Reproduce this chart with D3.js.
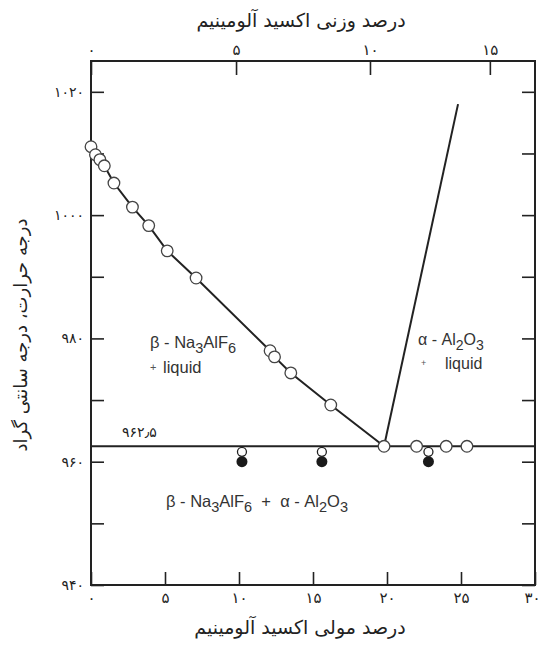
<!DOCTYPE html>
<html><head><meta charset="utf-8">
<script src="https://cdn.jsdelivr.net/npm/d3@7/dist/d3.min.js"></script>
<style>
body{margin:0;background:#fff;}
svg{display:block;}
.fa{font-family:"DejaVu Sans",sans-serif;}
.lat{font-family:"Liberation Sans",Arial,sans-serif;}
</style></head><body>
<svg id="c" width="541" height="645"></svg>
<script>
// ---- data ----
const molTicks = [0,5,10,15,20,25,30];
const tempTicks = [940,950,960,970,980,990,1000,1010,1020];
const tempLabels = [940,960,980,1000,1020];
const wtLabels = [0,5,10,15];
const wtTickMol = [0,9.8,18.85,26.95];   // mol% position of each weight% tick
const eutecticT = 962.5;
// beta-cryolite liquidus: [mol% Al2O3, temperature]
const liquidusBeta = [[0,1011.1],[0.3,1009.8],[0.6,1009],[0.9,1008],[1.55,1005.2],[2.8,1001.3],[3.9,998.3],[5.15,994.2],[7.1,989.8],[12.1,978.0],[12.4,977.0],[13.5,974.4],[16.2,969.2],[19.8,962.5]];
// alpha-alumina liquidus
const liquidusAlpha = [[19.8,962.5],[24.8,1018]];
// open circles on eutectic line
const eutecticPts = [[22.0,962.5],[24.0,962.5],[25.4,962.5]];
// solid (filled) points below eutectic with open marks above
const solidPts = [[10.2,960.0],[15.6,960.0],[22.8,960.0]];
const solidOpen = [[10.2,961.6],[15.6,961.6],[22.8,961.6]];

const fa = s => String(s).replace(/[0-9]/g, d => "۰۱۲۳۴۵۶۷۸۹"[+d]).replace(".", "٫");

const svg = d3.select("#c");
const x = d3.scaleLinear().domain([0,30]).range([91,535]);
const y = d3.scaleLinear().domain([940,1025]).range([585,61]);
const ink = "#222";

// axes
const gB = svg.append("g").attr("transform",`translate(0,${y(940)})`)
  .call(d3.axisBottom(x).tickValues(molTicks).tickSize(-13).tickPadding(7).tickFormat(fa));
const gT = svg.append("g").attr("transform",`translate(0,${y(1025)})`)
  .call(d3.axisTop(x).tickValues(wtTickMol).tickSize(-14).tickPadding(6).tickFormat((d,i)=>fa(wtLabels[i])));
const gL = svg.append("g").attr("transform",`translate(${x(0)},0)`)
  .call(d3.axisLeft(y).tickValues(tempTicks).tickSize(-13).tickPadding(7).tickFormat(d=>tempLabels.includes(d)?fa(d):""));
const gR = svg.append("g").attr("transform",`translate(${x(30)},0)`)
  .call(d3.axisRight(y).tickValues(tempTicks).tickSize(-13).tickFormat(""));
[gB,gT,gL,gR].forEach(g=>{
  g.select(".domain").remove();
  g.selectAll(".tick line").attr("stroke",ink).attr("stroke-width",1.6);
  g.selectAll("text").attr("class","fa").attr("font-size",15).attr("fill",ink);
});
gL.selectAll("text").attr("font-size",14);
gL.selectAll("text").filter(function(){return this.textContent==="";}).remove();
gR.selectAll("text").remove();
// last bottom label sits at the right edge
gB.selectAll(".tick text").filter(d=>d===30).attr("text-anchor","end").attr("dx",5);

// frame
svg.append("rect").attr("x",x(0)).attr("y",y(1025)).attr("width",x(30)-x(0)).attr("height",y(940)-y(1025))
  .attr("fill","none").attr("stroke",ink).attr("stroke-width",2);

// eutectic line
svg.append("line").attr("x1",x(0)).attr("x2",x(30)).attr("y1",y(eutecticT)).attr("y2",y(eutecticT))
  .attr("stroke",ink).attr("stroke-width",2);
svg.append("text").attr("class","fa").attr("x",x(2.1)).attr("y",y(eutecticT)-9).attr("font-size",14)
  .attr("fill",ink).text(fa(eutecticT));

const line = d3.line().x(d=>x(d[0])).y(d=>y(d[1]));
svg.append("path").attr("d",line(liquidusBeta)).attr("fill","none").attr("stroke",ink).attr("stroke-width",2);
svg.append("path").attr("d",line(liquidusAlpha)).attr("fill","none").attr("stroke",ink).attr("stroke-width",2);

// filled points
svg.selectAll(".sf").data(solidPts).enter().append("circle")
  .attr("cx",d=>x(d[0])).attr("cy",d=>y(d[1])).attr("r",5.5).attr("fill","#1a1a1a");
svg.selectAll(".so").data(solidOpen).enter().append("circle")
  .attr("cx",d=>x(d[0])).attr("cy",d=>y(d[1])).attr("r",4.5).attr("fill","#fff").attr("stroke",ink).attr("stroke-width",1.3);
// open circles
svg.selectAll(".oc").data(liquidusBeta.concat(eutecticPts)).enter().append("circle")
  .attr("cx",d=>x(d[0])).attr("cy",d=>y(d[1])).attr("r",5.8).attr("fill","#fff").attr("stroke","#444").attr("stroke-width",1.3);

// region labels with subscripts
function chem(g, xx, yy, parts, fs){
  const t = g.append("text").attr("class","lat").attr("x",xx).attr("y",yy).attr("font-size",fs).attr("fill","#333")
    .attr("xml:space","preserve");
  let prev = 0;
  const sh = fs*0.3;
  parts.forEach(p=>{
    const cur = p.sub ? sh : 0;
    const ts = t.append("tspan").attr("dy",cur-prev).text(p.t);
    if(p.sub) ts.attr("font-size",fs*0.88);
    prev = cur;
  });
  return t;
}
chem(svg,150,348,[{t:"β - Na"},{t:"3",sub:1},{t:"AlF"},{t:"6",sub:1}],16.5);
svg.append("text").attr("class","lat").attr("x",150).attr("y",371).attr("font-size",11).attr("fill","#555").text("+");
svg.append("text").attr("class","lat").attr("x",163).attr("y",373).attr("font-size",16.5).attr("fill","#333").text("liquid");
chem(svg,418,345,[{t:"α - Al"},{t:"2",sub:1},{t:"O"},{t:"3",sub:1}],16);
svg.append("text").attr("class","lat").attr("x",421).attr("y",366).attr("font-size",9).attr("fill","#555").text("+");
svg.append("text").attr("class","lat").attr("x",445).attr("y",369).attr("font-size",16).attr("fill","#333").text("liquid");
chem(svg,166,507,[{t:"β - Na"},{t:"3",sub:1},{t:"AlF"},{t:"6",sub:1},{t:"  +  α - Al"},{t:"2",sub:1},{t:"O"},{t:"3",sub:1}],16.5);

// axis titles
svg.append("text").attr("class","fa").attr("x",301).attr("y",27).attr("text-anchor","middle").attr("font-size",19).attr("fill",ink)
  .attr("direction","rtl").text("درصد وزنی اکسید آلومینیم");
svg.append("text").attr("class","fa").attr("x",300).attr("y",634).attr("text-anchor","middle").attr("font-size",19).attr("fill",ink)
  .attr("direction","rtl").text("درصد مولی اکسید آلومینیم");
svg.append("text").attr("class","fa").attr("transform","translate(27,335) rotate(-90)").attr("text-anchor","middle").attr("font-size",18).attr("fill",ink)
  .attr("direction","rtl").text("درجه حرارت، درجه سانتی گراد");
</script></body></html>
